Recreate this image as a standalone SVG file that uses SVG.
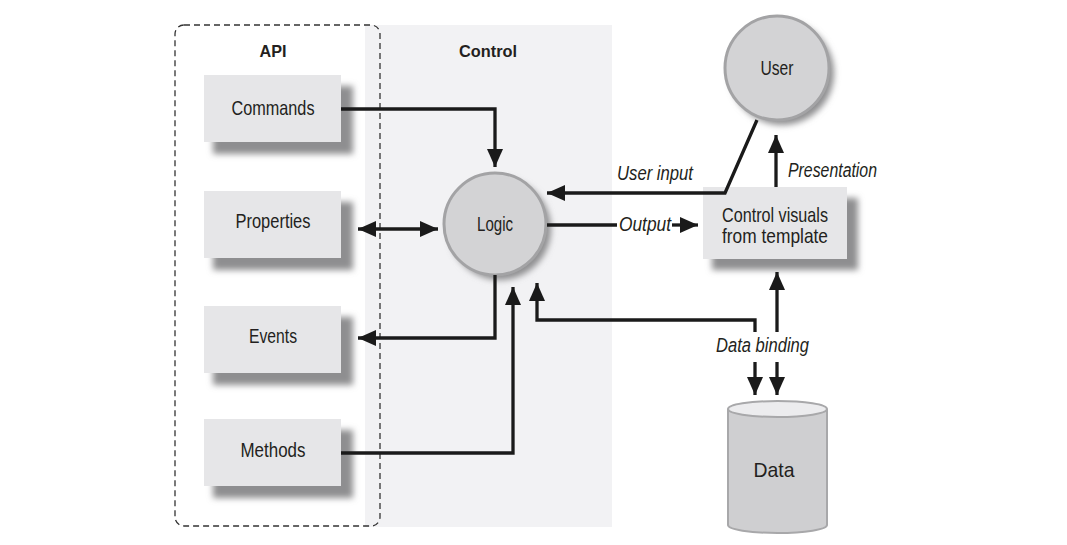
<svg xmlns="http://www.w3.org/2000/svg" width="1067" height="545" viewBox="0 0 1067 545">
<style>
.lbl{font-family:"Liberation Sans",Arial,sans-serif;font-size:21px;fill:#231f20;text-anchor:middle}
.hd{font-weight:bold;font-size:17px}
.it{font-family:"Liberation Sans",Arial,sans-serif;font-size:20px;font-style:italic;fill:#231f20}
.box{fill:#e6e6e8}
.sh{fill:#8e8e90;filter:url(#blur)}
.circ{fill:#d3d3d5;stroke:#a3a3a5;stroke-width:3}
.con{fill:none;stroke:#1a1a1a;stroke-width:3.3}
</style>
<defs>
<filter id="blur" x="-20%" y="-20%" width="140%" height="140%"><feGaussianBlur stdDeviation="3"/></filter>
<marker id="ah" markerUnits="userSpaceOnUse" markerWidth="20" markerHeight="16" viewBox="0 0 20 16" refX="18" refY="8" orient="auto-start-reverse">
<path d="M0,0 L18,8 L0,16 Z" fill="#1a1a1a"/>
</marker>
</defs>
<rect width="1067" height="545" fill="#ffffff"/>
<rect id="control-panel" x="365" y="25" width="247" height="502" fill="#f2f2f4"/>
<rect id="api-frame" x="175" y="25" width="205" height="501" rx="9" fill="none" stroke="#333" stroke-width="1.3" stroke-dasharray="6,4"/>
<text class="lbl hd" x="273" y="57" textLength="27" lengthAdjust="spacingAndGlyphs">API</text>
<text class="lbl hd" x="488" y="57" textLength="58" lengthAdjust="spacingAndGlyphs">Control</text>

<g id="commands"><rect class="sh" x="213" y="86" width="140" height="68"/><rect class="box" x="204" y="75" width="137" height="67"/><text class="lbl" x="273" y="115" textLength="83" lengthAdjust="spacingAndGlyphs">Commands</text></g>
<g id="properties"><rect class="sh" x="213" y="202" width="140" height="68"/><rect class="box" x="204" y="191" width="137" height="67"/><text class="lbl" x="273" y="228" textLength="75" lengthAdjust="spacingAndGlyphs">Properties</text></g>
<g id="events"><rect class="sh" x="213" y="317" width="140" height="68"/><rect class="box" x="204" y="306" width="137" height="67"/><text class="lbl" x="273" y="343" textLength="48" lengthAdjust="spacingAndGlyphs">Events</text></g>
<g id="methods"><rect class="sh" x="213" y="430" width="140" height="68"/><rect class="box" x="204" y="419" width="137" height="67"/><text class="lbl" x="273" y="457" textLength="65" lengthAdjust="spacingAndGlyphs">Methods</text></g>

<g id="logic"><circle cx="500" cy="229" r="51" fill="#8e8e90" filter="url(#blur)"/><circle class="circ" cx="495" cy="224" r="51"/><text class="lbl" x="495" y="231" textLength="36" lengthAdjust="spacingAndGlyphs">Logic</text></g>
<g id="user"><circle cx="782" cy="73" r="52" fill="#8e8e90" filter="url(#blur)"/><circle class="circ" cx="777" cy="68" r="52"/><text class="lbl" x="777" y="75" textLength="33" lengthAdjust="spacingAndGlyphs">User</text></g>
<g id="control-visuals"><rect class="sh" x="712" y="198" width="146" height="72"/><rect class="box" x="703" y="187" width="144" height="72"/><text class="lbl" x="775" y="222" textLength="106" lengthAdjust="spacingAndGlyphs">Control visuals</text><text class="lbl" x="775" y="243" textLength="106" lengthAdjust="spacingAndGlyphs">from template</text></g>
<g id="data">
<path d="M728,409 V525 A49.5,8 0 0 0 827,525 V409" fill="#cfcfd1" stroke="#a8a8aa" stroke-width="2"/>
<ellipse cx="777.5" cy="409" rx="49.5" ry="8" fill="#ececee" stroke="#a8a8aa" stroke-width="2"/>
<text class="lbl" x="774" y="477" textLength="41" lengthAdjust="spacingAndGlyphs">Data</text>
</g>

<g id="connectors">
<path class="con" d="M341,109 H495 V167" marker-end="url(#ah)"/>
<path class="con" d="M358,229 H438" marker-start="url(#ah)" marker-end="url(#ah)"/>
<path class="con" d="M757,120 L725,193 H547" marker-end="url(#ah)"/>
<path class="con" d="M547,225 H617"/>
<path class="con" d="M672,225 H698" marker-end="url(#ah)"/>
<path class="con" d="M776,187 V135" marker-end="url(#ah)"/>
<path class="con" d="M495,275 V338 H358" marker-end="url(#ah)"/>
<path class="con" d="M341,453 H513 V287" marker-end="url(#ah)"/>
<path class="con" d="M755,332 V320 H537 V283" marker-end="url(#ah)"/>
<path class="con" d="M777,332 V272" marker-end="url(#ah)"/>
<path class="con" d="M755,362 V395" marker-end="url(#ah)"/>
<path class="con" d="M777,362 V395" marker-end="url(#ah)"/>
<text class="it" x="617" y="180" textLength="76" lengthAdjust="spacingAndGlyphs">User input</text>
<text class="it" x="788" y="177" textLength="89" lengthAdjust="spacingAndGlyphs">Presentation</text>
<text class="it" x="619" y="231" textLength="52" lengthAdjust="spacingAndGlyphs">Output</text>
<text class="it" x="716" y="352" textLength="93" lengthAdjust="spacingAndGlyphs">Data binding</text>
</g>
</svg>
